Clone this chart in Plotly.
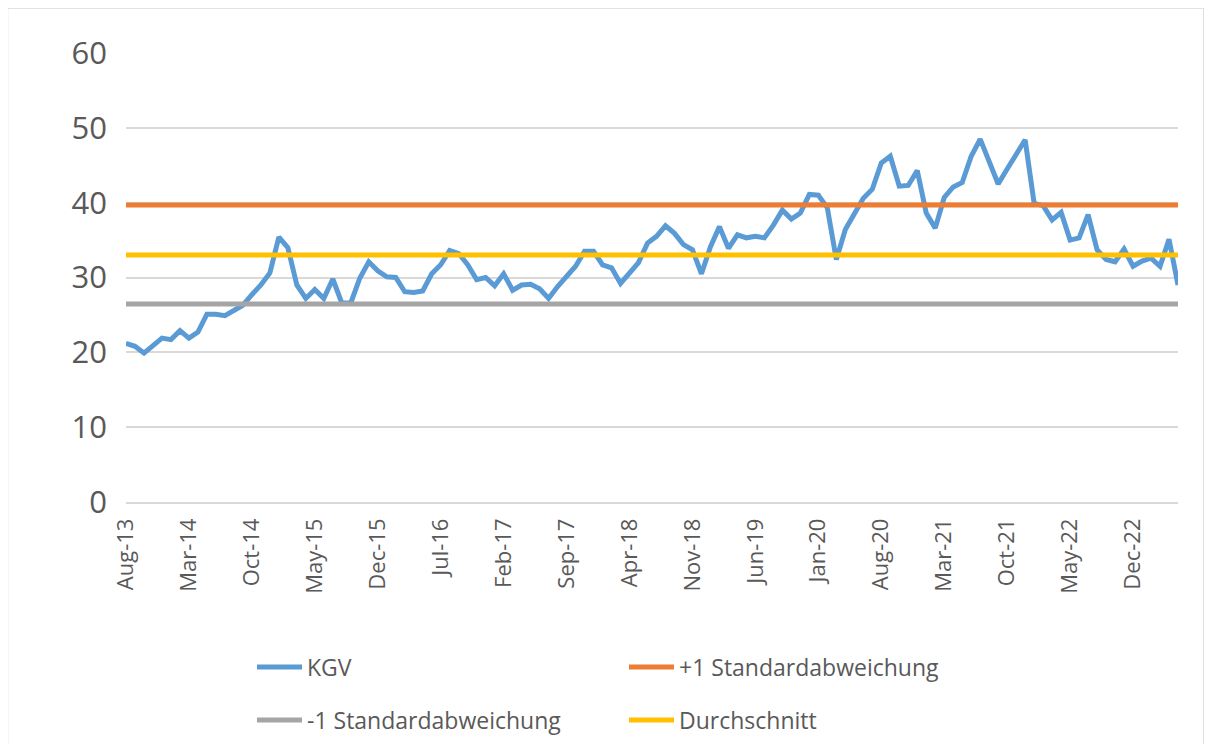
import pandas as pd
import plotly.graph_objects as go

# ---- data ----
months = pd.date_range("2013-08-01", periods=118, freq="MS").strftime("%b-%y").tolist()
kgv = [21.2, 20.8, 19.9, 21.0, 21.9, 21.7, 22.9, 21.9, 22.7, 25.1,
       25.1, 24.9, 25.6, 26.3, 27.7, 29.0, 30.6, 35.4, 34.0, 29.0,
       27.2, 28.4, 27.2, 29.8, 26.6, 26.6, 29.9, 32.1, 30.9, 30.1,
       30.0, 28.1, 28.0, 28.2, 30.5, 31.7, 33.6, 33.2, 31.7, 29.7,
       30.0, 28.9, 30.5, 28.3, 29.0, 29.1, 28.5, 27.2, 28.8, 30.2,
       31.5, 33.5, 33.5, 31.7, 31.3, 29.2, 30.6, 32.0, 34.6, 35.5,
       36.9, 35.9, 34.4, 33.7, 30.5, 34.1, 36.8, 33.9, 35.7, 35.3,
       35.5, 35.3, 37.0, 39.0, 37.8, 38.6, 41.1, 41.0, 39.3, 32.4,
       36.4, 38.6, 40.6, 41.8, 45.3, 46.2, 42.2, 42.3, 44.3, 38.6,
       36.6, 40.7, 42.1, 42.7, 46.2, 48.5, 45.4, 42.5, 44.5, 46.5,
       48.4, 39.9, 39.6, 37.7, 38.7, 35.0, 35.3, 38.4, 33.7, 32.4,
       32.1, 33.8, 31.5, 32.2, 32.6, 31.5, 35.1, 29.0]
plus_sd = 39.7
mean_val = 33.0
minus_sd = 26.45
tick_labels = months[::7]

series_names = ["KGV", "+1 Standardabweichung", "-1 Standardabweichung", "Durchschnitt"]
colors = ["#5B9BD5", "#ED7D31", "#A5A5A5", "#FFC000"]

n = len(months)
fig = go.Figure()
fig.add_trace(go.Scatter(x=months, y=kgv, mode="lines", name=series_names[0],
                         line=dict(color=colors[0], width=5), legend="legend"))
fig.add_trace(go.Scatter(x=months, y=[plus_sd] * n, mode="lines", name=series_names[1],
                         line=dict(color=colors[1], width=5), legend="legend"))
fig.add_trace(go.Scatter(x=months, y=[minus_sd] * n, mode="lines", name=series_names[2],
                         line=dict(color=colors[2], width=5), legend="legend2"))
fig.add_trace(go.Scatter(x=months, y=[mean_val] * n, mode="lines", name=series_names[3],
                         line=dict(color=colors[3], width=5), legend="legend2"))

W, H = 1212, 744
OFF = 8  # page body margin
# plot area in screen coordinates
PX0, PX1, PY0, PY1 = 126, 1178, 53, 502
L, T = PX0 - OFF, PY0 - OFF
pw, ph = PX1 - PX0, PY1 - PY0
R, B = W - L - pw, H - T - ph

def px(xs):
    return (xs - PX0) / pw

def py(ys):
    return (PY1 - ys) / ph

font_family = "Open Sans, Noto Sans, sans-serif"
txt = "#595959"

legend_common = dict(orientation="h", xanchor="left", yanchor="middle",
                     entrywidth=312, entrywidthmode="pixels", itemwidth=45,
                     font=dict(family=font_family, size=23, color=txt),
                     bgcolor="rgba(0,0,0,0)", traceorder="normal")

fig.update_layout(
    width=W, height=H,
    margin=dict(l=L, r=R, t=T, b=B, autoexpand=False),
    paper_bgcolor="white", plot_bgcolor="white",
    font=dict(family=font_family, color=txt),
    showlegend=True,
    legend=dict(x=px(252), y=py(667), **legend_common),
    legend2=dict(x=px(252), y=py(720), **legend_common),
    xaxis=dict(type="category", range=[0, n - 1], tickmode="array",
               tickvals=tick_labels, ticktext=tick_labels, tickangle=-90,
               tickfont=dict(size=22, color=txt), showgrid=False,
               showline=True, linecolor="#D9D9D9", linewidth=1.5,
               ticks="", ticklabelstandoff=6),
    yaxis=dict(range=[0, 60], tickvals=[0, 10, 20, 30, 40, 50, 60],
               tickfont=dict(size=31, color=txt), showgrid=True,
               gridcolor="#D9D9D9", gridwidth=1.5, zeroline=False,
               showline=False, ticks="", ticklabelstandoff=18),
    shapes=[dict(type="rect", xref="paper", yref="paper",
                 x0=px(7.5), x1=px(1204), y0=py(760), y1=py(8),
                 line=dict(color="#D9D9D9", width=1.5), fillcolor="rgba(0,0,0,0)",
                 layer="below")],
)

fig.write_html("out.html")
